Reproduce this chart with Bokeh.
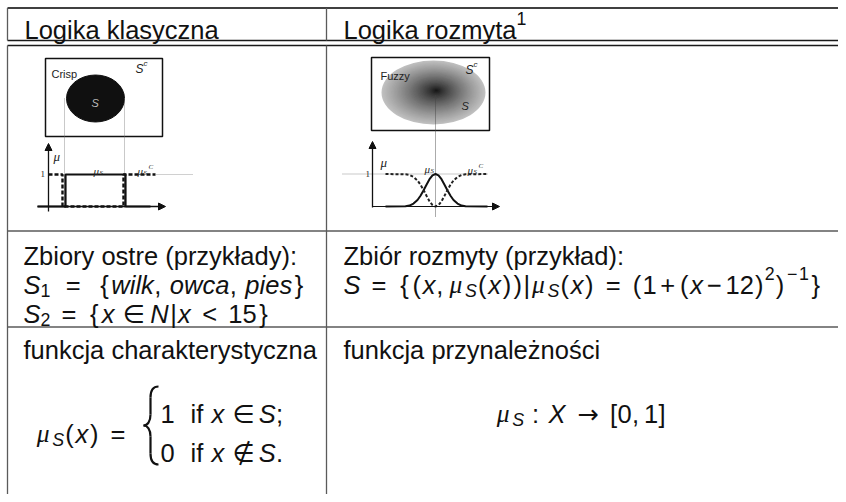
from bokeh.plotting import figure
from bokeh.models import Range1d, ColumnDataSource, Arrow, NormalHead
from bokeh.embed import file_html
from bokeh.resources import INLINE

# ---------------- data / texts ----------------
header_left = "Logika klasyczna"
header_right = "Logika rozmyta"
footnote_mark = "1"
crisp_title = "Zbiory ostre (przykłady):"
crisp_words = ["wilk", "owca", "pies"]
crisp_limit = "15"
fuzzy_title = "Zbiór rozmyty (przykład):"
fuzzy_center = "12"
row4_left = "funkcja charakterystyczna"
row4_right = "funkcja przynależności"
panel_names = ["Crisp", "Fuzzy"]
# fuzzy membership curve (offset from centre in px, membership)
bell_offsets = [-50, -30, -26, -22, -18, -15, -12, -9, -6, -3, 0, 3, 6, 9, 12, 15, 18, 22, 26, 30, 52]
bell_values = [0, 0.01, 0.03, 0.09, 0.2, 0.33, 0.49, 0.67, 0.84, 0.96, 1, 0.96, 0.84, 0.67, 0.49, 0.33, 0.2, 0.09, 0.03, 0.01, 0]
# crisp membership: interval of S and level values
crisp_in = [65, 125]
crisp_levels = [0, 1]

# ---------------- figure ----------------
p = figure(width=838, height=494, x_range=Range1d(0, 838), y_range=Range1d(494, 0),
           output_backend="svg", toolbar_location=None, min_border=0,
           x_axis_location=None, y_axis_location=None)
p.grid.visible = False
p.outline_line_color = None
p.background_fill_color = "white"
p.border_fill_color = "white"

# Arial / Liberation Sans advance widths (1/1000 em)
W = {' ': 278, '!': 278, '(': 333, ')': 333, '+': 584, ',': 278, '-': 333, '.': 278, ':': 278, ';': 278,
     '<': 584, '=': 584, '>': 584, '[': 278, ']': 278, '{': 334, '|': 260, '}': 334, '−': 584,
     '→': 838, '∈': 720, '∉': 720, 'μ': 560,
     'A': 667, 'B': 667, 'C': 722, 'D': 722, 'E': 667, 'F': 611, 'G': 778, 'H': 722, 'I': 278, 'J': 500,
     'K': 667, 'L': 556, 'M': 833, 'N': 722, 'O': 778, 'P': 667, 'Q': 778, 'R': 722, 'S': 667, 'T': 611,
     'U': 722, 'V': 667, 'W': 944, 'X': 667, 'Y': 667, 'Z': 611,
     'a': 556, 'b': 556, 'c': 500, 'd': 556, 'e': 556, 'f': 278, 'g': 556, 'h': 556, 'i': 222, 'j': 222,
     'k': 500, 'l': 222, 'm': 833, 'n': 556, 'o': 556, 'p': 556, 'q': 556, 'r': 333, 's': 500, 't': 278,
     'u': 556, 'v': 500, 'w': 722, 'x': 500, 'y': 500, 'z': 500, 'ó': 556, 'ł': 222, 'ż': 500, 'ś': 500,
     'ć': 500}
for d in "0123456789":
    W[d] = 556
# widths of the math symbols in the original typesetting (em)
CMW = {'=': .778, '+': .7, '−': .7, '<': .778, '∈': .667, '∉': .667, '→': 1.0, ':': .278, '(': .389,
       ')': .389, '[': .278, ']': .278, '{': .5, '}': .5, '|': .278, ',': .278, ';': .278, '.': .278,
       'μ': .603, 'x': .5, 'S': .6, 'N': .75, 'X': .7}

T = dict(x=[], y=[], text=[], font=[], fstyle=[], fsize=[], color=[])
SANS = "Liberation Sans"
SERIF = "Liberation Serif"
SYM = "DejaVu Sans"
FS = 25.5   # glyph size
EM = 27.7   # em of the original typesetting, used for math spacing


def put(x, y, s, font, style, size, color="#111111"):
    T["x"].append(x); T["y"].append(y); T["text"].append(s)
    T["font"].append(font); T["fstyle"].append(style)
    T["fsize"].append("%.1fpx" % size); T["color"].append(color)


def emit(x, y, runs, size=FS, math=False, color="#111111"):
    for txt, kind in runs:
        if kind == " ":
            x += txt * EM
            continue
        sz, dy, font, style = size, 0.0, SANS, "normal"
        if kind == "i":
            style = "italic"
        elif kind == "g":
            font, style = SERIF, "italic"
        elif kind == "m":
            font = SYM
        elif kind == "b":
            sz, dy, style = size * 0.7, size * 0.24, "italic"
        elif kind == "B":
            sz, dy = size * 0.7, size * 0.24
        elif kind == "p":
            sz, dy = size * 0.7, -size * 0.42
        if math:
            em = EM * sz / size
            for c in txt:
                gw = W.get(c, 556) * sz / 1000.0
                al = max(gw, CMW.get(c, 0) * em)
                f = SYM if c in "∈∉→" else font
                put(x + (al - gw) / 2, y + dy, c, f, style, sz, color)
                x += al
        else:
            put(x, y + dy, txt, font, style, sz, color)
            x += sum(W.get(c, 556) for c in txt) * sz / 1000.0
    return x


# ---------------- table rules ----------------
XL, XD, XR = 7, 326, 838
Y_TOP, Y_D1, Y_D2, Y_R3, Y_R4, Y_BOT = 7.5, 40, 45, 230.5, 326.5, 494
p.segment(x0=[XL], y0=[Y_TOP], x1=[XR], y1=[Y_TOP], line_color="#000000", line_width=1.7)
p.segment(x0=[XL, XL], y0=[Y_D1, Y_D2], x1=[XR, XR], y1=[Y_D1, Y_D2], line_color="#1a1a1a", line_width=1.6)
p.segment(x0=[XL, XL], y0=[Y_R3, Y_R4], x1=[XR, XR], y1=[Y_R3, Y_R4], line_color="#5a5a5a", line_width=1.3)
p.segment(x0=[XL, XL, XD, XD], y0=[Y_TOP, Y_D2, Y_TOP, Y_D2], x1=[XL, XL, XD, XD],
          y1=[Y_D1, Y_BOT, Y_D1, Y_BOT], line_color="#5a5a5a", line_width=1.3)

# ---------------- texts ----------------
emit(24, 29, [(header_left, "r")])
emit(343, 29, [(header_right, "r"), (footnote_mark, "p")])

emit(23, 255, [(crisp_title, "r")])
emit(23, 284, [("S", "i"), ("1", "B")], math=True)
emit(62, 284, [("=", "r")], math=True)
emit(97, 284, [("{", "r"), (crisp_words[0], "i"), (",", "r"), (0.3, " "), (crisp_words[1], "i"),
               (",", "r"), (0.3, " "), (crisp_words[2], "i"), ("}", "r")], math=True)
emit(23, 313, [("S", "i"), ("2", "B"), (0.278, " "), ("=", "r"), (0.278, " "), ("{", "r"), ("x", "i"),
               (0.278, " "), ("∈", "m"), (0.278, " "), ("N", "i"), ("|", "r"), ("x", "i"), (0.278, " "),
               ("<", "r"), (0.278, " "), (crisp_limit, "r"), ("}", "r")], math=True)

emit(343, 255, [(fuzzy_title, "r")])
emit(343, 284, [("S", "i"), (0.278, " "), ("=", "r"), (0.278, " "), ("{(", "r"), ("x", "i"), (",", "r"),
                (0.167, " "), ("μ", "g"), ("S", "b"), ("(", "r"), ("x", "i"), ("))|", "r"), ("μ", "g"),
                ("S", "b"), ("(", "r"), ("x", "i"), (")", "r"), (0.278, " "), ("=", "r"), (0.278, " "),
                ("(1", "r"), (0.05, " "), ("+", "r"), (0.05, " "), ("(", "r"), ("x", "i"), (0.05, " "),
                ("−", "r"), (0.05, " "), (fuzzy_center + ")", "r"), ("2", "p"), (")", "r"), ("−1", "p"),
                ("}", "r")], math=True)

emit(23, 349, [(row4_left, "r")])
emit(343, 349, [(row4_right, "r")])

emit(35, 433, [("μ", "g"), ("S", "b"), ("(", "r"), ("x", "i"), (")", "r"), (0.278, " "), ("=", "r")], math=True)
emit(160, 413, [("1", "r")], math=True)
emit(190, 413, [("if", "r"), (0.278, " "), ("x", "i"), (0.278, " "), ("∈", "m"), (0.278, " "), ("S", "i"), (";", "r")], math=True)
emit(160, 452, [("0", "r")], math=True)
emit(190, 452, [("if", "r"), (0.278, " "), ("x", "i"), (0.278, " "), ("∉", "m"), (0.278, " "), ("S", "i"), (".", "r")], math=True)
emit(495, 413, [("μ", "g"), ("S", "b"), (0.278, " "), (":", "r"), (0.278, " "), ("X", "i"), (0.278, " "),
                ("→", "m"), (0.278, " "), ("[0,", "r"), (0.167, " "), ("1]", "r")], math=True)

# brace of the cases environment
p.bezier(x0=[158, 150, 150, 158], y0=[386, 414, 436, 464], x1=[150, 143, 143, 150], y1=[397, 425, 425, 453],
         cx0=[153, 150, 150, 153], cy0=[386, 421, 429, 464], cx1=[150, 147, 147, 150], cy1=[390, 425, 425, 460],
         line_color="#111111", line_width=2.2)
p.segment(x0=[150, 150], y0=[397, 436], x1=[150, 150], y1=[414, 453], line_color="#111111", line_width=2.2)

# ---------------- crisp panel ----------------
p.quad(left=[45], right=[162], top=[58], bottom=[136], fill_color="white", line_color="#111111", line_width=1.5)
p.ellipse(x=[95], y=[98], width=[58], height=[47], fill_color="#101010", line_color="#101010")
put(51, 73, panel_names[0], SANS, "normal", 11, "#222222")
put(135, 68, "S", SANS, "italic", 12, "#222222"); put(143, 63, "c", SANS, "italic", 8, "#222222")
put(91, 102, "S", SANS, "italic", 11, "#bbbbbb")
p.segment(x0=[64, 124], y0=[98, 98], x1=[64, 124], y1=[207, 207], line_color="#777777", line_width=0.8,
          line_dash="1 1")
lv = lambda m: 206 - m * (206 - 174)
p.add_layout(Arrow(end=NormalHead(size=7, fill_color="#111111", line_color="#111111"), x_start=48, y_start=211,
                   x_end=48, y_end=143, line_color="#111111", line_width=1.3))
p.add_layout(Arrow(end=NormalHead(size=7, fill_color="#111111", line_color="#111111"), x_start=37, y_start=206,
                   x_end=165, y_end=206, line_color="#111111", line_width=1.3))
# mu_S (solid)
p.line(x=[37, crisp_in[0], crisp_in[0], crisp_in[1], crisp_in[1], 150],
       y=[lv(crisp_levels[0]), lv(crisp_levels[0]), lv(crisp_levels[1]), lv(crisp_levels[1]), lv(crisp_levels[0]),
          lv(crisp_levels[0])], line_color="#111111", line_width=2.2)
# mu_S^c (dashed)
p.line(x=[48, crisp_in[0] - 3, crisp_in[0] - 3, crisp_in[1] - 2, crisp_in[1] - 2, 155],
       y=[lv(1 - crisp_levels[0]), lv(1 - crisp_levels[0]), lv(1 - crisp_levels[1]), lv(1 - crisp_levels[1]),
          lv(1 - crisp_levels[0]), lv(1 - crisp_levels[0])], line_color="#111111", line_width=2.4, line_dash="4 2")
p.segment(x0=[155], y0=[lv(1)], x1=[192], y1=[lv(1)], line_color="#888888", line_width=0.8, line_dash="1 1")
put(53, 156, "μ", SERIF, "italic", 13, "#222222")
put(40, 173, "1", SERIF, "normal", 9, "#222222")
put(93, 170, "μ", SERIF, "italic", 11, "#222222"); put(99, 172, "S", SERIF, "italic", 7, "#222222")
put(137, 170, "μ", SERIF, "italic", 11, "#222222"); put(143, 172, "S", SERIF, "italic", 7, "#222222")
put(148, 166, "C", SERIF, "italic", 7, "#222222")

# ---------------- fuzzy panel ----------------
p.quad(left=[371], right=[489], top=[57], bottom=[130], fill_color="white", line_color="#111111", line_width=1.5)
n = 40
ex, ey, ew, eh, ec = [], [], [], [], []
for k in range(n):
    r = 1 - k / n
    g = int(12 + 180 * r ** 0.75)
    ex.append(433 + 3 * (1 - r)); ey.append(92 - 2 * (1 - r)); ew.append(104 * r); eh.append(64 * r)
    ec.append("#%02x%02x%02x" % (g, g, g))
p.ellipse(x=ex, y=ey, width=ew, height=eh, fill_color=ec, line_color=None)
put(380, 75, panel_names[1], SANS, "normal", 11, "#222222")
put(465, 69, "S", SANS, "italic", 12, "#222222"); put(473, 64, "c", SANS, "italic", 8, "#222222")
put(461, 105, "S", SANS, "italic", 11, "#222222")
p.segment(x0=[435], y0=[95], x1=[435], y1=[217], line_color="#444444", line_width=0.9, line_dash="1 1")
p.segment(x0=[342], y0=[173.5], x1=[487], y1=[173.5], line_color="#777777", line_width=0.8, line_dash="1 1")
p.add_layout(Arrow(end=NormalHead(size=7, fill_color="#111111", line_color="#111111"), x_start=372, y_start=207,
                   x_end=372, y_end=141, line_color="#111111", line_width=1.3))
p.add_layout(Arrow(end=NormalHead(size=7, fill_color="#111111", line_color="#111111"), x_start=372, y_start=206,
                   x_end=499, y_end=206, line_color="#111111", line_width=1.1))
fy = lambda m: 206 - m * (206 - 173.5)
p.line(x=[435 + o for o in bell_offsets], y=[fy(v) for v in bell_values], line_color="#111111", line_width=2.0)
p.line(x=[435 + o for o in bell_offsets], y=[fy(1 - v) for v in bell_values], line_color="#222222",
       line_width=2.0, line_dash="3 2")
put(380, 162, "μ", SERIF, "italic", 13, "#222222")
put(365, 173, "1", SERIF, "normal", 9, "#222222")
put(424, 168, "μ", SERIF, "italic", 11, "#222222"); put(430, 170, "S", SERIF, "italic", 7, "#222222")
put(467, 169, "μ", SERIF, "italic", 11, "#222222"); put(473, 171, "S", SERIF, "italic", 7, "#222222")
put(478, 165, "C", SERIF, "italic", 7, "#222222")

src = ColumnDataSource(T)
p.text(x="x", y="y", text="text", text_font="font", text_font_style="fstyle", text_font_size="fsize",
       text_color="color", text_baseline="alphabetic", text_align="left", source=src)

open("out.html", "w").write(file_html(p, INLINE))
